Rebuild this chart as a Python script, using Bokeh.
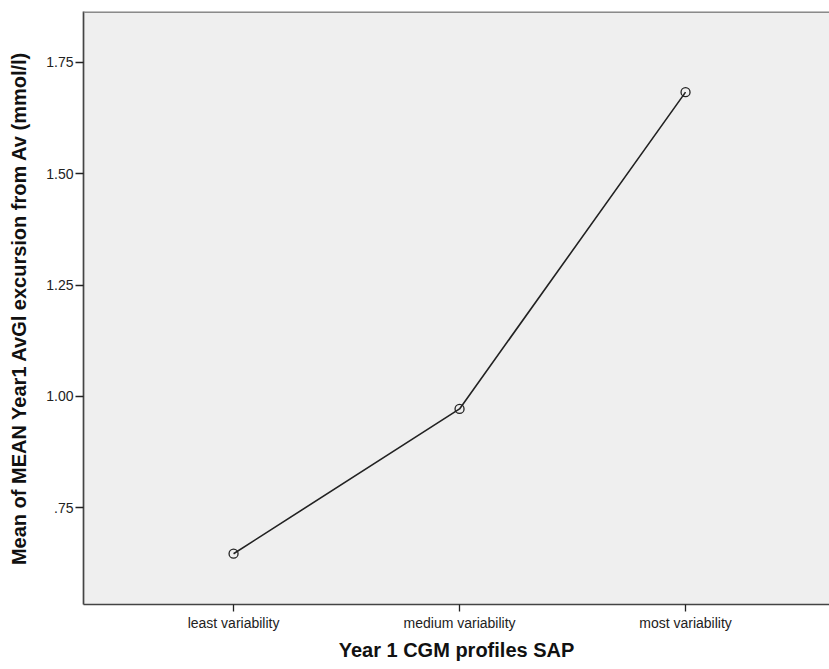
from bokeh.plotting import figure
from bokeh.models import FixedTicker, Span, Range1d
from bokeh.embed import file_html
from bokeh.resources import INLINE

categories = ["least variability", "medium variability", "most variability"]
means = [0.647, 0.972, 1.683]
y_ticks = [0.75, 1.00, 1.25, 1.50, 1.75]
y_tick_labels = [".75", "1.00", "1.25", "1.50", "1.75"]

x_pos = list(range(len(categories)))

FONT = "Liberation Sans"

p = figure(width=829, height=669, output_backend="svg", toolbar_location=None,
           x_range=Range1d(-0.664, 2.637), y_range=Range1d(0.533, 1.864),
           min_border_left=83, min_border_top=11, min_border_right=0, min_border_bottom=65)

p.background_fill_color = "#efefef"
p.border_fill_color = "white"
p.outline_line_color = None
p.xgrid.grid_line_color = None
p.ygrid.grid_line_color = None

p.line(x_pos, means, line_color="#222222", line_width=1.6)
p.scatter(x_pos, means, marker="circle", size=9, fill_color=None,
          line_color="#222222", line_width=1.3)

top = Span(location=1.864, dimension="width", line_color="#8a8a8a", line_width=3)
p.add_layout(top)

p.xaxis.ticker = FixedTicker(ticks=x_pos)
p.xaxis.major_label_overrides = {i: c for i, c in zip(x_pos, categories)}
p.yaxis.ticker = FixedTicker(ticks=y_ticks)
p.yaxis.major_label_overrides = {t: l for t, l in zip(y_ticks, y_tick_labels)}

for ax in (p.xaxis, p.yaxis):
    ax.axis_line_color = "#444444"
    ax.axis_line_width = 1.7
    ax.major_tick_line_color = "#222222"
    ax.major_tick_line_width = 1.3
    ax.major_tick_in = 0
    ax.minor_tick_line_color = None
    ax.major_label_text_font = FONT
    ax.major_label_text_font_size = "14px"
    ax.major_label_text_color = "#222222"
    ax.axis_label_text_font = FONT
    ax.axis_label_text_font_size = "20px"
    ax.axis_label_text_font_style = "bold"
    ax.axis_label_text_color = "#111111"

p.xaxis.major_tick_out = 7
p.xaxis.major_label_standoff = 3
p.xaxis.axis_label_standoff = 5
p.yaxis.major_tick_out = 8
p.yaxis.major_label_standoff = 2
p.yaxis.axis_label_standoff = 13

p.xaxis.axis_label = "Year 1 CGM profiles SAP"
p.yaxis.axis_label = "Mean of MEAN Year1 AvGl excursion from Av (mmol/l)"

open("out.html", "w").write(file_html(p, INLINE))
